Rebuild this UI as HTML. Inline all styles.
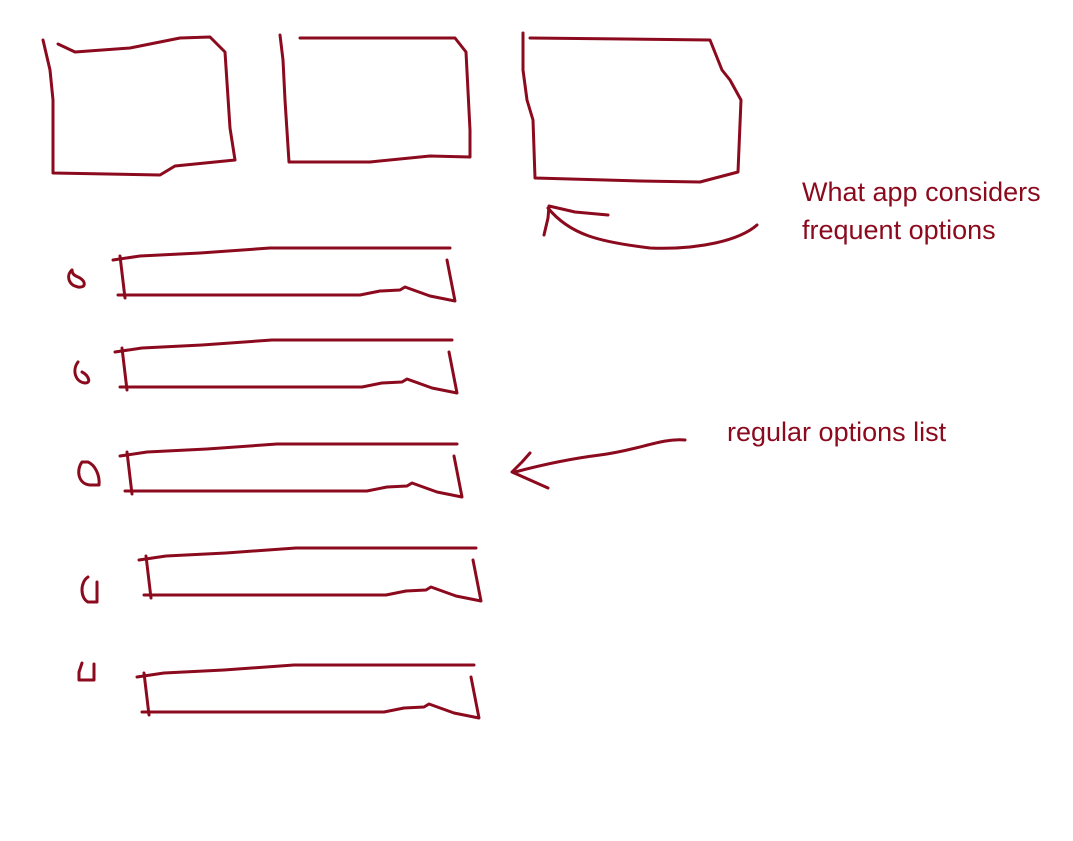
<!DOCTYPE html>
<html><head><meta charset="utf-8"><style>
html,body{margin:0;padding:0;background:#fff;}
svg{display:block}
text{font-family:"Liberation Sans",sans-serif;font-size:27px;fill:#8b0a1e}
</style></head><body>
<svg width="1073" height="841" viewBox="0 0 1073 841">
<g fill="none" stroke="#8b0a1e" stroke-width="3" stroke-linecap="round" stroke-linejoin="round">
<polyline points="43,40 50,70 53,100 53,173 160,175 175,166 235,160 230,128 225,52 210,37 180,38 130,48 75,52 58,44"/>
<polyline points="280,35 283,60 285,100 289,162 370,162 430,156 470,157 470,130 466,52 455,38 300,38"/>
<polyline points="523,33 523,70 527,100 533,120 535,178 640,181 700,182 738,172 741,100 730,80 722,70 710,40 530,38"/>
<path d="M757,225 C740,240 700,250 650,248 C600,242 570,235 548,208"/>
<polyline points="544,235 548,218 549,206 575,212 608,215"/>
<path d="M685,440 C660,438 640,450 600,455 C560,460 530,468 515,472"/>
<polyline points="530,453 522,462 512,472 548,488"/>
<g><polyline points="113,260 140,256 200,253 270,248 450,248"/><polyline points="120,256 125,298"/><polyline points="118,295 360,295 380,291 400,290 405,287 430,296 455,301 447,260"/></g>
<g transform="translate(2,92)"><polyline points="113,260 140,256 200,253 270,248 450,248"/><polyline points="120,256 125,298"/><polyline points="118,295 360,295 380,291 400,290 405,287 430,296 455,301 447,260"/></g>
<g transform="translate(7,196)"><polyline points="113,260 140,256 200,253 270,248 450,248"/><polyline points="120,256 125,298"/><polyline points="118,295 360,295 380,291 400,290 405,287 430,296 455,301 447,260"/></g>
<g transform="translate(26,300)"><polyline points="113,260 140,256 200,253 270,248 450,248"/><polyline points="120,256 125,298"/><polyline points="118,295 360,295 380,291 400,290 405,287 430,296 455,301 447,260"/></g>
<g transform="translate(24,417)"><polyline points="113,260 140,256 200,253 270,248 450,248"/><polyline points="120,256 125,298"/><polyline points="118,295 360,295 380,291 400,290 405,287 430,296 455,301 447,260"/></g>
<path d="M72,270 C66,275 68,285 78,287 C86,288 86,282 80,278 C76,276 72,275 72,270"/>
<path d="M78,362 C72,370 75,382 85,383 C92,383 88,375 82,372"/>
<path d="M82,462 C76,470 78,484 90,485 L99,485 C100,475 95,465 88,462 Z"/>
<path d="M88,577 C80,582 80,598 88,602 L97,602 L97,582"/>
<path d="M82,663 L79,672 L79,680 L94,680 L94,664"/>
</g>
<text x="802" y="201">What app considers</text>
<text x="802" y="239">frequent options</text>
<text x="727" y="441">regular options list</text>
</svg>
</body></html>
